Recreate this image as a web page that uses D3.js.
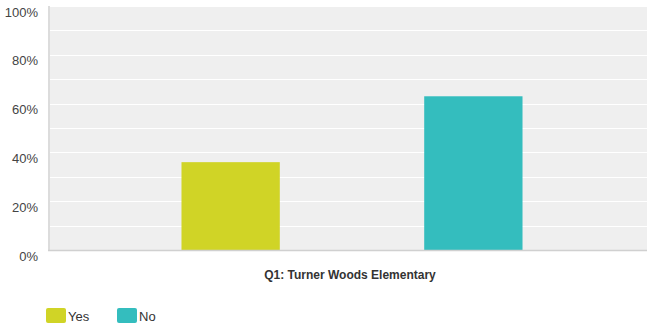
<!DOCTYPE html>
<html>
<head>
<meta charset="utf-8">
<script src="https://d3js.org/d3.v7.min.js"></script>
<style>
  body { margin: 0; background: #fff; }
  text { font-family: "Liberation Sans", Arial, sans-serif; }
</style>
</head>
<body>
<svg id="vis"></svg>
<script>
  // data
  var groups = ["Q1: Turner Woods Elementary"];
  var series = ["Yes", "No"];
  var values = [36, 63];
  var colors = ["#d0d426", "#34bdbe"];
  var yTicks = [0, 20, 40, 60, 80, 100];

  var W = 647, H = 326;
  var plotL = 48, plotT = 6, plotB = 250, plotR = 656;

  var svg = d3.select("#vis")
    .attr("width", W)
    .attr("height", H);

  var y = d3.scaleLinear().domain([0, 100]).range([plotB, plotT]);

  var x0 = d3.scaleBand().domain(groups).range([plotL, plotR]).padding(0);
  var x1 = d3.scaleBand().domain(series)
    .range([0, x0.bandwidth()])
    .paddingInner(0.595)
    .paddingOuter(0.55);

  // plot background
  svg.append("rect")
    .attr("x", plotL).attr("y", plotT)
    .attr("width", plotR - plotL).attr("height", plotB - plotT)
    .attr("fill", "#efefef");

  // gridlines every 10%
  svg.append("g")
    .selectAll("line")
    .data(d3.range(10, 101, 10))
    .enter().append("line")
    .attr("x1", plotL).attr("x2", plotR)
    .attr("y1", function(d){ return Math.round(y(d)) + 0.5 })
    .attr("y2", function(d){ return Math.round(y(d)) + 0.5 })
    .attr("stroke", "#fff")
    .attr("stroke-width", 1);

  // bars
  svg.append("g")
    .selectAll("rect")
    .data(series.map(function(s, i){ return {s: s, v: values[i], c: colors[i], g: groups[0]} }))
    .enter().append("rect")
    .attr("x", function(d){ return x0(d.g) + x1(d.s) })
    .attr("y", function(d){ return y(d.v) })
    .attr("width", x1.bandwidth())
    .attr("height", function(d){ return plotB - y(d.v) })
    .attr("fill", function(d){ return d.c });

  // left axis line
  svg.append("line")
    .attr("x1", plotL + 1).attr("x2", plotL + 1)
    .attr("y1", plotT).attr("y2", plotB + 1)
    .attr("stroke", "#dcdcdc").attr("stroke-width", 2);

  // bottom axis line
  svg.append("line")
    .attr("x1", plotL).attr("x2", plotR)
    .attr("y1", plotB + 0.5).attr("y2", plotB + 0.5)
    .attr("stroke", "#d0d0d0").attr("stroke-width", 1.5);

  // y tick labels
  var yAxis = d3.axisLeft(y)
    .tickValues(yTicks)
    .tickSize(0)
    .tickPadding(0)
    .tickFormat(function(d){ return d + "%" });
  var ya = svg.append("g")
    .attr("transform", "translate(38,6)")
    .call(yAxis);
  ya.select(".domain").remove();
  ya.selectAll("text")
    .attr("font-family", "Liberation Sans, Arial, sans-serif")
    .attr("font-size", 13)
    .attr("fill", "#444");

  // x category label
  svg.append("text")
    .attr("x", x0(groups[0]) + x0.bandwidth() / 2 - 2)
    .attr("y", 279)
    .attr("text-anchor", "middle")
    .attr("font-size", 12)
    .attr("font-weight", "bold")
    .attr("fill", "#333")
    .text(groups[0]);

  // legend
  var legX = [46, 117];
  var leg = svg.append("g")
    .selectAll("g")
    .data(series)
    .enter().append("g")
    .attr("transform", function(d, i){ return "translate(" + legX[i] + ",308)" });
  leg.append("rect")
    .attr("width", 20).attr("height", 15)
    .attr("rx", 2)
    .attr("fill", function(d, i){ return colors[i] });
  leg.append("text")
    .attr("x", 22).attr("y", 12.5)
    .attr("font-size", 13)
    .attr("fill", "#333")
    .text(function(d){ return d });
</script>
</body>
</html>
